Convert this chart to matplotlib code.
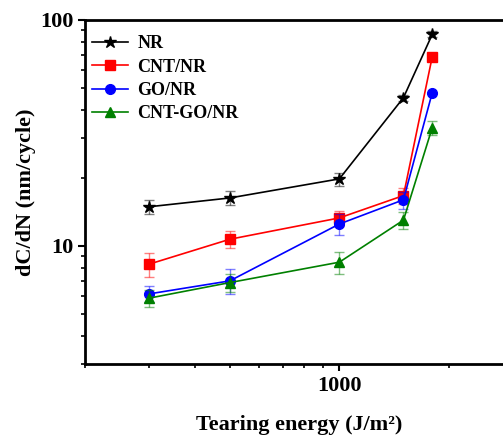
import matplotlib.pyplot as plt
import matplotlib.ticker as ticker

plt.rcParams['font.family'] = 'Liberation Serif'
plt.rcParams['font.weight'] = 'bold'

# tearing energy (J/m2)
x = [300, 500, 1000, 1500, 1800]

# crack growth rate dC/dN (nm/cycle) and error
nr = [14.9, 16.3, 19.8, 45.3, 86.4]
nr_err = [1.1, 1.2, 1.3, 1.4, 2.7]
cnt = [8.3, 10.7, 13.3, 16.7, 68.8]
cnt_err = [1.0, 0.9, 1.0, 1.4, 0.0]
go = [6.13, 7.0, 12.5, 16.0, 47.7]
go_err = [0.5, 0.9, 1.3, 1.4, 0.0]
cntgo = [5.87, 6.88, 8.47, 13.0, 33.4]
cntgo_err = [0.5, 0.6, 0.95, 1.1, 2.3]

labels = ['NR', 'CNT/NR', 'GO/NR', 'CNT-GO/NR']

fig = plt.figure(figsize=(5.03, 4.41), dpi=100)
ax = fig.add_axes([85/503, 1 - 364/441, 428/503, 344/441])

series = [(nr, nr_err, 'black', '*', 9),
          (cnt, cnt_err, 'red', 's', 6.5),
          (go, go_err, 'blue', 'o', 7),
          (cntgo, cntgo_err, 'green', '^', 7.5)]

for (y, err, c, m, ms), lab in zip(series, labels):
    ax.errorbar(x, y, yerr=err, fmt='none', ecolor=c, alpha=0.5,
                elinewidth=1, capsize=3.5, capthick=1)
    ax.plot(x, y, color=c, marker=m, markersize=ms, linewidth=1.2, label=lab)

ax.set_xscale('log')
ax.set_yscale('log')
ax.set_xlim(200, 3000)
ax.set_ylim(3, 100)

ax.xaxis.set_major_locator(ticker.FixedLocator([1000]))
ax.xaxis.set_major_formatter(ticker.FixedFormatter(['1000']))
ax.xaxis.set_minor_locator(ticker.LogLocator(base=10, subs=range(2, 10)))
ax.xaxis.set_minor_formatter(ticker.NullFormatter())
ax.yaxis.set_major_locator(ticker.FixedLocator([10, 100]))
ax.yaxis.set_major_formatter(ticker.FixedFormatter(['10', '100']))
ax.yaxis.set_minor_locator(ticker.LogLocator(base=10, subs=range(2, 10)))
ax.yaxis.set_minor_formatter(ticker.NullFormatter())

ax.tick_params(which='major', direction='out', length=5, width=1.5, labelsize=16)
ax.tick_params(which='minor', direction='out', length=3, width=1.2)
for s in ax.spines.values():
    s.set_linewidth(2)

ax.set_xlabel('Tearing energy (J/m²)', fontsize=16, fontweight='bold', labelpad=14)
ax.set_ylabel('dC/dN (nm/cycle)', fontsize=16, fontweight='bold', labelpad=3)

ax.legend(loc='upper left', bbox_to_anchor=(0, 1 - 8/344), frameon=False,
          handlelength=2.0, labelspacing=0.35, borderaxespad=0,
          handletextpad=0.5, prop={'weight': 'bold', 'size': 13})

fig.savefig('out.png', dpi=100)
